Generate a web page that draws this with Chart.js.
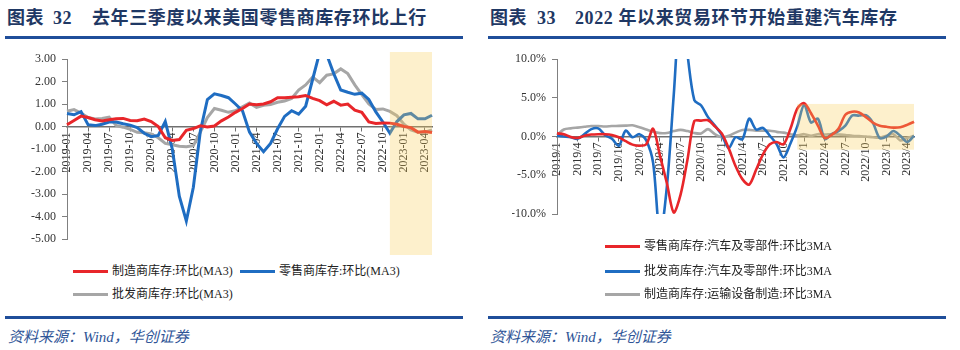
<!DOCTYPE html>
<html>
<head>
<meta charset="utf-8">
<script src="https://cdn.jsdelivr.net/npm/chart.js@4.4.0/dist/chart.umd.min.js"></script>
<style>
  body { margin:0; width:960px; height:350px; background:#fff; position:relative; overflow:hidden;
         font-family:'Liberation Serif','Noto Sans CJK SC',serif; }
  .title { position:absolute; top:8px; font-size:18px; line-height:20px; font-weight:bold; color:#1f3864;
           letter-spacing:0.6px; white-space:nowrap; font-family:'Liberation Serif','Noto Sans CJK SC',serif; }
  .rule { position:absolute; height:3px; background:#1f4e9a; }
  .src { position:absolute; top:325px; font-size:15px; font-style:italic; color:#2f5597; white-space:nowrap; }
  .leg { position:absolute; font-size:12px; line-height:14px; color:#222; white-space:nowrap; display:flex; align-items:center; }
  .leg i { display:inline-block; width:35px; height:3px; margin-right:4px; }
  canvas { position:absolute; }
</style>
</head>
<body>
<div class="title" style="left:7px">图表</div>
<div class="title" style="left:53px">32</div>
<div class="title" style="left:92px">去年三季度以来美国零售商库存环比上行</div>
<div class="rule" style="left:5px;top:36px;width:458px"></div>

<div class="title" style="left:490px">图表</div>
<div class="title" style="left:537px">33</div>
<div class="title" style="left:575px">2022 年以来贸易环节开始重建汽车库存</div>
<div class="rule" style="left:488px;top:36px;width:458px"></div>

<canvas id="leftChart" width="470" height="215" style="left:0;top:45px"></canvas>
<canvas id="rightChart" width="470" height="200" style="left:480px;top:45px"></canvas>

<div class="leg" style="left:73px;top:264px"><i style="background:#e8262a"></i>制造商库存:环比(MA3)</div>
<div class="leg" style="left:240px;top:264px"><i style="background:#1f6dc2"></i>零售商库存:环比(MA3)</div>
<div class="leg" style="left:73px;top:287px"><i style="background:#a6a6a6"></i>批发商库存:环比(MA3)</div>

<div class="leg" style="left:605px;top:239px"><i style="background:#e8262a"></i>零售商库存:汽车及零部件:环比3MA</div>
<div class="leg" style="left:605px;top:264px"><i style="background:#1f6dc2"></i>批发商库存:汽车及零部件:环比3MA</div>
<div class="leg" style="left:605px;top:287px"><i style="background:#a6a6a6"></i>制造商库存:运输设备制造:环比3MA</div>

<div class="rule" style="left:5px;top:316px;width:458px"></div>
<div class="rule" style="left:488px;top:316px;width:458px"></div>
<div class="src" style="left:8px">资料来源：Wind，华创证券</div>
<div class="src" style="left:490px">资料来源：Wind，华创证券</div>

<script>
const months = [
  '2019-01','2019-02','2019-03','2019-04','2019-05','2019-06','2019-07','2019-08','2019-09','2019-10','2019-11','2019-12',
  '2020-01','2020-02','2020-03','2020-04','2020-05','2020-06','2020-07','2020-08','2020-09','2020-10','2020-11','2020-12',
  '2021-01','2021-02','2021-03','2021-04','2021-05','2021-06','2021-07','2021-08','2021-09','2021-10','2021-11','2021-12',
  '2022-01','2022-02','2022-03','2022-04','2022-05','2022-06','2022-07','2022-08','2022-09','2022-10','2022-11','2022-12',
  '2023-01','2023-02','2023-03','2023-04','2023-05'
];

// 图表32: 美国库存环比 (MA3)
const mfgInv = [0.08,0.27,0.46,0.40,0.30,0.25,0.30,0.34,0.36,0.27,0.26,0.33,
  0.22,0.00,-0.50,-0.62,-0.58,-0.17,-0.09,0.03,-0.02,0.02,0.25,0.42,
  0.63,0.80,1.00,0.97,1.00,1.10,1.28,1.28,1.30,1.32,1.38,1.25,
  1.15,0.96,1.12,0.95,1.00,0.73,0.63,0.20,0.13,0.16,0.15,0.10,
  0.00,-0.05,-0.25,-0.22,-0.27];
const retailInv = [0.58,0.52,0.66,0.08,0.04,0.10,0.20,0.20,0.12,0.06,-0.05,-0.30,
  -0.45,-0.40,0.22,-1.00,-3.10,-4.20,-2.70,-0.20,1.20,1.45,1.38,1.28,
  1.00,0.70,-0.25,-0.75,-1.12,-0.75,-0.10,0.45,0.70,0.55,0.90,2.10,
  3.30,3.20,2.35,1.62,1.52,1.43,1.48,1.20,0.65,0.20,-0.30,0.22,
  0.52,0.58,0.34,0.34,0.50];
const wholesaleInv = [0.68,0.75,0.60,0.40,0.33,0.36,0.42,0.05,-0.03,-0.13,-0.26,-0.28,
  -0.33,-0.50,-0.75,-0.81,-0.88,-0.90,-0.85,-0.25,0.40,0.80,0.72,0.63,
  0.70,0.87,1.04,0.85,0.94,0.98,1.08,1.13,1.25,1.62,1.85,2.20,
  1.95,2.28,2.34,2.56,2.35,1.85,1.42,1.00,0.76,0.78,0.67,0.48,
  0.10,-0.15,-0.25,-0.25,-0.15];
const leftYTicks = [-5, -4, -3, -2, -1, 0, 1, 2, 3];

// 图表33: 汽车库存环比 3MA (%)
const retailAuto = [0.4,0.3,-0.05,-0.2,0.1,0.25,0.3,0.3,0.2,-0.1,-0.6,-1.05,
  -1.2,-1.0,1.0,-2.5,-6.0,-9.8,-7.5,-3.0,2.0,2.05,2.1,1.3,
  0.4,-1.5,-3.8,-5.5,-6.2,-4.3,-2.3,-1.0,-0.7,-1.0,1.0,3.6,
  4.3,3.0,1.4,-0.2,0.2,1.0,2.8,3.2,3.1,2.5,1.8,1.4,
  1.25,1.15,1.2,1.5,1.9];
const wholesaleAuto = [0.1,0.0,-0.1,-0.3,0.3,0.95,1.05,0.2,-0.3,-1.2,0.75,-0.1,
  0.3,-0.5,-3.4,-12.8,-6.5,5.3,17.0,10.6,4.7,4.0,2.5,1.4,
  0.2,-1.5,-0.1,-0.35,2.3,0.9,1.1,0.1,-1.0,-2.7,-0.9,1.3,
  4.1,1.8,2.3,-0.3,0.3,0.7,1.4,2.7,2.7,2.75,1.8,-0.2,
  0.0,0.7,0.1,-0.7,0.1];
const mfgTransport = [0.2,0.9,1.05,1.15,1.25,1.35,1.35,1.3,1.35,1.37,1.4,1.45,
  1.2,0.9,0.6,0.43,0.45,0.7,0.85,0.7,0.45,0.4,0.95,0.3,
  -0.1,0.1,0.5,0.85,0.85,0.75,0.75,0.75,0.6,0.5,0.3,0.15,
  0.3,0.1,0.3,0.25,0.3,0.25,0.2,0.1,0.05,0.0,-0.1,-0.15,
  0.1,0.3,-0.5,-0.2,0.1];
const rightYTicks = [-10, -5, 0, 5, 10];
const rightLabels = months.map(m => m.slice(0, 4) + '/' + parseInt(m.slice(5), 10));

const RED = '#e8262a', BLUE = '#1f6dc2', GRAY = '#a6a6a6';
const tickFont = { family: "'Liberation Serif', 'Times New Roman', serif", size: 12 };

// translucent highlight box drawn over the lines
const shadePlugin = {
  id: 'shade',
  afterDatasetsDraw(chart, args, opts) {
    const { ctx, scales: { x, y } } = chart;
    const left = x.getPixelForValue(opts.from);
    const right = x.getPixelForValue(opts.to);
    const top = y.getPixelForValue(opts.top) - (opts.padTop || 0);
    const bottom = y.getPixelForValue(opts.bottom) + (opts.padBottom || 0);
    ctx.save();
    ctx.fillStyle = 'rgba(248, 205, 85, 0.3)';
    ctx.fillRect(left, top, right - left, bottom - top);
    ctx.restore();
  }
};

function line(data, color, width, tension) {
  return { data, borderColor: color, backgroundColor: color, borderWidth: width,
           pointRadius: 0, tension, fill: false };
}

function makeChart(id, labels, datasets, yTicks, yFmt, yWidth, padding, shade) {
  return new Chart(document.getElementById(id).getContext('2d'), {
    type: 'line',
    data: { labels, datasets },
    options: {
      responsive: false,
      animation: false,
      layout: { padding },
      plugins: { legend: { display: false }, tooltip: { enabled: false }, shade },
      scales: {
        x: {
          position: { y: 0 },
          offset: false,
          grid: { drawOnChartArea: false, drawTicks: true, tickLength: 4, color: '#707070' },
          border: { display: true, color: '#707070', width: 1.5 },
          ticks: {
            autoSkip: false, maxRotation: 90, minRotation: 90, padding: 2,
            font: tickFont, color: '#333',
            callback: function (v, i) { return i % 3 === 0 ? this.getLabelForValue(v) : null; }
          }
        },
        y: {
          min: yTicks[0], max: yTicks[yTicks.length - 1],
          afterBuildTicks: s => { s.ticks = yTicks.map(v => ({ value: v })); },
          afterFit: s => { s.width = yWidth; },
          grid: { drawOnChartArea: false, drawTicks: true, tickLength: 5, color: '#808080' },
          border: { display: true, color: '#808080', width: 1 },
          ticks: { font: tickFont, color: '#333', padding: 6, callback: yFmt }
        }
      }
    },
    plugins: [shadePlugin]
  });
}

makeChart('leftChart', months, [
    line(mfgInv, RED, 3, 0),
    line(retailInv, BLUE, 3, 0),
    line(wholesaleInv, GRAY, 3, 0)
  ], leftYTicks, v => v.toFixed(2), 40,
  { left: 27, top: 14, right: 38, bottom: 21 },
  { from: '2022-11', to: '2023-05', top: 3, bottom: -5, padTop: 7, padBottom: 16 });

makeChart('rightChart', rightLabels, [
    line(retailAuto, RED, 2.6, 0.3),
    line(wholesaleAuto, BLUE, 2.6, 0.3),
    line(mfgTransport, GRAY, 2.6, 0.3)
  ], rightYTicks, v => v.toFixed(1) + '%', 45,
  { left: 32, top: 14, right: 36, bottom: 31 },
  { from: '2021/12', to: '2023/5', top: 4.2, bottom: -1.7 });
</script>
</body>
</html>
